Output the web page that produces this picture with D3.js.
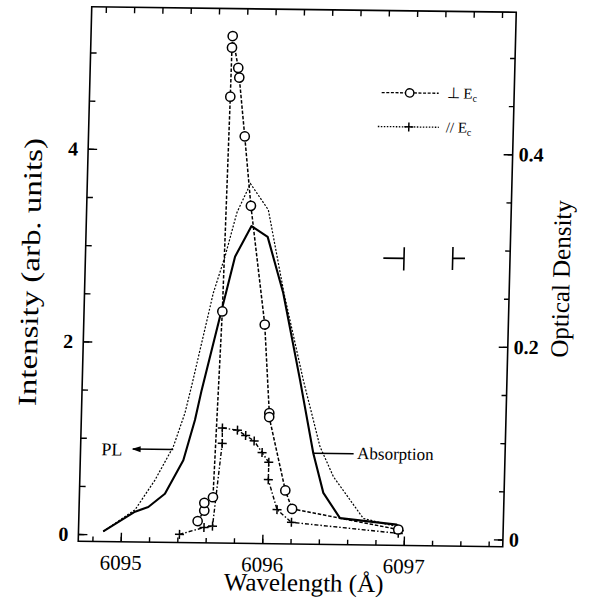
<!DOCTYPE html>
<html><head><meta charset="utf-8">
<script src="https://cdn.jsdelivr.net/npm/d3@7"></script>
<style>
body{margin:0;background:#fff}
text{font-family:"Liberation Serif","Times New Roman",serif;fill:#000}
</style>
</head><body>
<svg id="c" width="598" height="603"></svg>
<script>
// ---- data ----
const wavelengthPL = [6094.875, 6095.096, 6095.231, 6095.355, 6095.431, 6095.476, 6095.610, 6095.686, 6095.763, 6095.853, 6095.984, 6096.109, 6096.261, 6096.391, 6096.491, 6096.710, 6096.947, 6096.995];
const intensityPL  = [0.03, 0.26, 0.57, 0.92, 1.27, 1.57, 2.52, 2.90, 3.36, 3.66, 3.39, 2.53, 1.63, 0.94, 0.63, 0.20, 0.12, 0.07];

const wavelengthAbs = [6094.875, 6095.096, 6095.189, 6095.304, 6095.428, 6095.503, 6095.545, 6095.676, 6095.757, 6095.868, 6095.984, 6096.104, 6096.238, 6096.345, 6096.423, 6096.545, 6096.947, 6096.995];
const odAbs         = [0.003, 0.024, 0.029, 0.043, 0.078, 0.120, 0.151, 0.237, 0.290, 0.322, 0.311, 0.253, 0.163, 0.087, 0.046, 0.020, 0.014, 0.007];

const wavelengthPerp = [6095.540, 6095.585, 6095.584, 6095.644, 6095.677, 6095.695, 6095.698, 6095.701, 6095.746, 6095.755, 6095.804, 6095.860, 6095.979, 6096.027, 6096.027, 6096.154, 6096.205, 6096.959];
const intensityPerp  = [0.15, 0.26, 0.34, 0.40, 2.33, 4.56, 5.07, 5.19, 4.86, 4.76, 4.15, 3.43, 2.20, 1.28, 1.24, 0.48, 0.29, 0.09];

const wavelengthPar = [6095.414, 6095.586, 6095.646, 6095.700, 6095.698, 6095.805, 6095.864, 6095.925, 6095.983, 6096.032, 6096.032, 6096.099, 6096.203, 6096.960];
const intensityPar  = [0.01, 0.085, 0.10, 0.96, 1.12, 1.10, 1.045, 0.99, 0.87, 0.77, 0.59, 0.28, 0.15, 0.05];

const xTickLabels = [6095, 6096, 6097];
const yLeftTicks  = [0, 2, 4];
const yRightTicks = [0, 0.2, 0.4];
const legendLabels = ["\u22A5 E", "// E"];

// ---- layout ----
const W = 424.5, H = 534.5;
const svg = d3.select('#c');
svg.append('rect').attr('width', 598).attr('height', 603).attr('fill', '#fff');
const g = svg.append('g').attr('transform', 'matrix(1,0.01296,-0.0253,1,91.75,6.75)');

const x  = d3.scaleLinear().domain([6094.7, 6097.7]).range([0, W]);
const yL = d3.scaleLinear().domain([-0.075, 5.475]).range([H, 0]);
const yR = d3.scaleLinear().domain([-0.0075, 0.5475]).range([H, 0]);

const xMinor = d3.range(0, 15).map(i => +(6094.8 + 0.2 * i).toFixed(1));
const yMinor = d3.range(0, 11).map(i => i * 0.5);
const odMinor = d3.range(0, 11).map(i => +(i * 0.05).toFixed(2));

function clean(sel) {
  sel.select('.domain').remove();
  sel.attr('font-family', null).attr('font-size', null);
  sel.selectAll('line').attr('stroke', '#000').attr('stroke-width', 1.4);
}

// bottom
g.append('g').attr('transform', `translate(0,${H})`)
  .call(d3.axisBottom(x).tickValues(xMinor).tickSize(-5).tickFormat('')).call(clean);
g.append('g').attr('transform', `translate(0,${H})`)
  .call(d3.axisBottom(x).tickValues(xTickLabels).tickSize(-9).tickPadding(13).tickFormat(d3.format('d')))
  .call(clean)
  .selectAll('text').style('font-size', '21px');
// top
g.append('g').call(d3.axisTop(x).tickValues(xMinor).tickSize(-6).tickFormat('')).call(clean);
// left
g.append('g').call(d3.axisLeft(yL).tickValues(yMinor).tickSize(-6).tickFormat('')).call(clean);
g.append('g').call(d3.axisLeft(yL).tickValues(yLeftTicks).tickSize(-9).tickPadding(10).tickFormat(d3.format('d')))
  .call(clean)
  .selectAll('text').style('font-size', '20px').style('font-weight', 'bold');
// right
g.append('g').attr('transform', `translate(${W},0)`)
  .call(d3.axisRight(yR).tickValues(odMinor).tickSize(-5).tickFormat('')).call(clean);
g.append('g').attr('transform', `translate(${W},0)`)
  .call(d3.axisRight(yR).tickValues(yRightTicks).tickSize(-9).tickPadding(6).tickFormat(d => d === 0 ? '0' : d.toFixed(1)))
  .call(clean)
  .selectAll('text').style('font-size', '20px').style('font-weight', 'bold');

// frame
g.append('rect').attr('width', W).attr('height', H)
  .attr('fill', 'none').attr('stroke', '#000').attr('stroke-width', 1.6);

// axis titles
g.append('text').attr('x', x(6096.3)).attr('y', H + 47)
  .attr('text-anchor', 'middle').style('font-size', '25px').text('Wavelength  (\u00C5)');
g.append('text').attr('transform', `translate(-46,266) rotate(-90)`)
  .attr('text-anchor', 'middle').style('font-size', '26px')
  .attr('textLength', 268).attr('lengthAdjust', 'spacingAndGlyphs')
  .text('Intensity (arb. units)');
g.append('text').attr('transform', `translate(${W + 60},266) rotate(-90)`)
  .attr('text-anchor', 'middle').style('font-size', '25px').text('Optical Density');

// curves
const lineL = d3.line().x(d => x(d[0])).y(d => yL(d[1]));
const lineR = d3.line().x(d => x(d[0])).y(d => yR(d[1]));

const pl   = wavelengthPL.map((w, i) => [w, intensityPL[i]]);
const abs  = wavelengthAbs.map((w, i) => [w, odAbs[i]]);
const perp = wavelengthPerp.map((w, i) => [w, intensityPerp[i]]);
const par  = wavelengthPar.map((w, i) => [w, intensityPar[i]]);

g.append('path').datum(pl).attr('d', lineL).attr('fill', 'none')
  .attr('stroke', '#000').attr('stroke-width', 1.2).attr('stroke-dasharray', '2,1.6');
g.append('path').datum(abs).attr('d', lineR).attr('fill', 'none')
  .attr('stroke', '#000').attr('stroke-width', 2.1).attr('stroke-linejoin', 'round');
g.append('path').datum(par).attr('d', lineL).attr('fill', 'none')
  .attr('stroke', '#000').attr('stroke-width', 1.4).attr('stroke-dasharray', '4,2,1.5,2');
g.append('path').datum(perp).attr('d', lineL).attr('fill', 'none')
  .attr('stroke', '#000').attr('stroke-width', 1.5).attr('stroke-dasharray', '3.5,1.8');

// markers
g.selectAll('path.plus').data(par).enter().append('path').attr('class', 'plus')
  .attr('transform', d => `translate(${x(d[0])},${yL(d[1])})`)
  .attr('d', 'M-4.5,0H4.5M0,-4.5V4.5').attr('stroke', '#000').attr('stroke-width', 1.5);
g.selectAll('circle.pt').data(perp).enter().append('circle').attr('class', 'pt')
  .attr('cx', d => x(d[0])).attr('cy', d => yL(d[1])).attr('r', 4.6)
  .attr('fill', '#fff').attr('stroke', '#000').attr('stroke-width', 1.5);

// PL label with arrow
const plY = yL(0.889);
g.append('line').attr('x1', x(6095.07)).attr('x2', x(6095.355)).attr('y1', plY).attr('y2', plY)
  .attr('stroke', '#000').attr('stroke-width', 1.5);
g.append('path').attr('d', `M${x(6095.061)},${plY}l9,-3v6z`).attr('fill', '#000');
g.append('text').attr('x', x(6094.848)).attr('y', yL(0.82)).style('font-size', '18px').text('PL');

// Absorption label
const abY = yR(0.087);
g.append('line').attr('x1', x(6096.345)).attr('x2', x(6096.63)).attr('y1', abY).attr('y2', abY)
  .attr('stroke', '#000').attr('stroke-width', 1.5);
g.append('text').attr('x', x(6096.655)).attr('y', yR(0.0815)).style('font-size', '17px').text('Absorption');

// resolution marks
const m1 = yL(2.905), m2 = yL(2.913);
g.append('path').attr('d',
  `M${x(6096.805)},${m1}H${x(6096.951)}M${x(6096.951)},${yL(3.02)}V${yL(2.78)}` +
  `M${x(6097.295)},${yL(3.03)}V${yL(2.79)}M${x(6097.295)},${m2}H${x(6097.382)}`)
  .attr('fill', 'none').attr('stroke', '#000').attr('stroke-width', 1.6);

// legend
const lg = g.append('g');
lg.append('line').attr('x1', 292).attr('x2', 349).attr('y1', 82).attr('y2', 82)
  .attr('stroke', '#000').attr('stroke-width', 1.3).attr('stroke-dasharray', '3,1.6');
lg.append('circle').attr('cx', 320).attr('cy', 82).attr('r', 4.2)
  .attr('fill', '#fff').attr('stroke', '#000').attr('stroke-width', 1.4);
lg.append('line').attr('x1', 289).attr('x2', 350).attr('y1', 116).attr('y2', 116)
  .attr('stroke', '#000').attr('stroke-width', 1.3).attr('stroke-dasharray', '1.5,1.5');
lg.append('path').attr('transform', 'translate(320,116)').attr('d', 'M-4.5,0H4.5M0,-4.5V4.5')
  .attr('stroke', '#000').attr('stroke-width', 1.5);
[[82, legendLabels[0]], [116, legendLabels[1]]].forEach(([yy, t]) => {
  const tx = lg.append('text').attr('x', 357).attr('y', yy + 5).style('font-size', '15px');
  tx.append('tspan').text(t);
  tx.append('tspan').attr('dy', 3).style('font-size', '10px').text('c');
});
</script>
</body></html>
